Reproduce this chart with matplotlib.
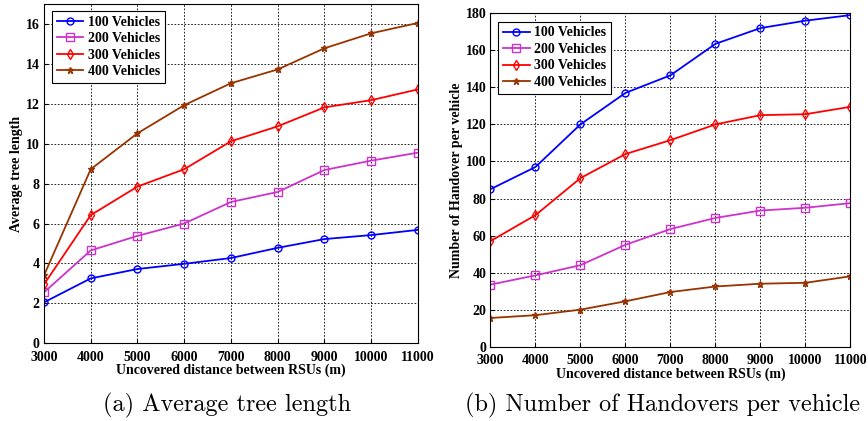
import matplotlib.pyplot as plt
import numpy as np

distance = [3000, 4000, 5000, 6000, 7000, 8000, 9000, 10000, 11000]
labels = ['100 Vehicles', '200 Vehicles', '300 Vehicles', '400 Vehicles']

tree_100 = [2.05, 3.25, 3.72, 3.98, 4.27, 4.78, 5.22, 5.42, 5.68]
tree_200 = [2.55, 4.65, 5.38, 6.00, 7.08, 7.58, 8.68, 9.15, 9.55]
tree_300 = [2.95, 6.42, 7.85, 8.72, 10.12, 10.87, 11.82, 12.18, 12.72]
tree_400 = [3.40, 8.72, 10.52, 11.93, 13.03, 13.72, 14.78, 15.53, 16.05]

ho_100 = [85, 97, 120, 137, 146.5, 163.5, 172, 176, 179]
ho_200 = [33.5, 38.5, 44, 55, 63.5, 69.5, 73.5, 75, 77.5]
ho_300 = [57, 71, 91, 104, 111.5, 120, 125, 125.5, 129.5]
ho_400 = [15.5, 17, 20, 24.5, 29.5, 32.5, 34, 34.5, 38]

colors = ['#0000ff', '#cc33cc', '#ff0000', '#993300']
markers = ['o', 's', 'd', '*']
msizes = [5, 5.5, 5, 5]

plt.rcParams['font.family'] = 'Liberation Serif'
plt.rcParams['font.weight'] = 'bold'

fig = plt.figure(figsize=(8.68, 4.21), dpi=100)
ax1 = fig.add_axes([0.0507, 0.1847, 0.4307, 0.8058])
ax2 = fig.add_axes([0.5650, 0.1765, 0.4148, 0.7920])


def draw(ax, series, ylim, yticks, ylabel, legend_anchor):
    for ys, c, m, ms, lab in zip(series, colors, markers, msizes, labels):
        ax.plot(distance, ys, color=c, marker=m, ms=ms, mfc='none', mec=c,
                mew=1.0, lw=1.3, label=lab)
    ax.set_xlim(3000, 11000)
    ax.set_ylim(*ylim)
    ax.set_xticks(distance)
    ax.set_yticks(yticks)
    ax.grid(True, ls=(0, (2, 2)), color='black', lw=0.6)
    ax.tick_params(direction='in', labelsize=10, length=3)
    ax.tick_params(axis='x', pad=5.5)
    ax.tick_params(axis='y', pad=3)
    for t in ax.get_xticklabels() + ax.get_yticklabels():
        t.set_fontweight('bold')
    ax.set_xlabel('Uncovered distance between RSUs (m)', fontsize=10,
                  fontweight='bold', labelpad=0)
    ax.set_ylabel(ylabel, fontsize=10, fontweight='bold', labelpad=2)
    leg = ax.legend(loc='upper left', bbox_to_anchor=legend_anchor,
                    prop={'family': 'Liberation Serif', 'weight': 'bold', 'size': 10},
                    fancybox=False, edgecolor='black', framealpha=1,
                    handlelength=1.9, handletextpad=0.3, labelspacing=0.25,
                    borderpad=0.35, borderaxespad=0)
    leg.get_frame().set_linewidth(0.8)


draw(ax1, [tree_100, tree_200, tree_300, tree_400], (0, 17), np.arange(0, 17, 2),
     'Average tree length', (0.022, 0.98))
draw(ax2, [ho_100, ho_200, ho_300, ho_400], (0, 180), np.arange(0, 181, 20),
     'Number of Handover per vehicle', (0.022, 0.975))

fig.text(0.2615, 0.038, '(a) Average tree length', family='cmr10', fontsize=17.5,
         ha='center', va='center', fontweight='normal')
fig.text(0.7638, 0.038, '(b) Number of Handovers per vehicle', family='cmr10',
         fontsize=17.5, ha='center', va='center', fontweight='normal')

fig.savefig('out.png', dpi=100)
